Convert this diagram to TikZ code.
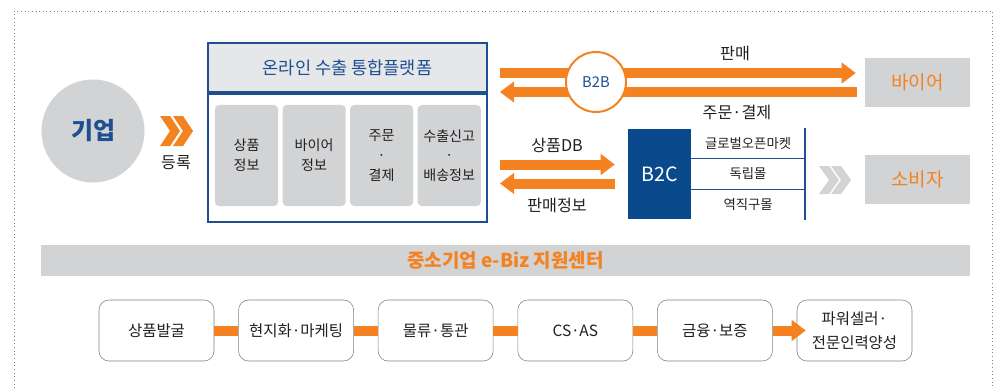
\documentclass[tikz,border=0pt]{standalone}
\usepackage{fontspec}
\setmainfont{Noto Sans CJK KR}
\usepackage{tikz}
\usetikzlibrary{calc}
\usetikzlibrary{positioning}
\usetikzlibrary{arrows.meta}

\definecolor{kblue}{HTML}{1D4F91}
\definecolor{kdblue}{HTML}{0A4A8C}
\definecolor{korange}{HTML}{F58220}
\definecolor{kgray}{HTML}{D1D3D4}
\definecolor{klight}{HTML}{E6E7E8}
\definecolor{kdark}{HTML}{231F20}
\definecolor{kborder}{HTML}{808285}

\begin{document}
\begin{tikzpicture}[x=0.025cm, y=-0.025cm,
        tag/.style={text=kdark, inner sep=0pt, font=\fontsize{11.5}{14}\selectfont},
        infobox/.style={rectangle, rounded corners=0.1cm, fill=kgray, minimum width=1.575cm, minimum height=2.525cm, align=center, text=kdark, inner sep=0pt, font=\fontsize{10}{14}\selectfont},
        stepbox/.style={rectangle, rounded corners=0.25cm, draw=kborder, fill=white, minimum width=2.875cm, minimum height=1.525cm, align=center, text=kdark, inner sep=0pt, font=\fontsize{11}{17}\selectfont},
        targetbox/.style={rectangle, fill=kgray, minimum width=2.625cm, minimum height=1.225cm, text=korange, font=\fontsize{13.5}{16}\selectfont},
        listrow/.style={rectangle, minimum width=2.825cm, minimum height=0.75cm, inner sep=0pt, text=kdark, font=\fontsize{9.5}{12}\selectfont},
        oband/.style={draw=korange, line width=0.25cm},
        oarrow/.style={oband, -{Triangle[length=0.35cm, width=0.53cm, line width=0pt]}},
        frameline/.style={draw=gray, line width=0.6pt, dotted}]
        \useasboundingbox (0,0) rectangle (1000,388);
        \draw[frameline] (14,388) -- (14,11) -- (992,11) -- (992,388);

        % company and registration
        \node[circle, fill=kgray, minimum size=2.575cm, text=kblue, font=\bfseries\fontsize{17}{20}\selectfont] (firm) at (93,131) {기업};
        \fill[korange] (160,116) -- (170,116) -- (180,131) -- (170,146) -- (160,146) -- (170,131) -- cycle
                       (173,116) -- (183,116) -- (193,131) -- (183,146) -- (173,146) -- (183,131) -- cycle;
        \node[tag] (reg) at (176,163) {등록};

        % platform
        \node[rectangle, draw=kblue, line width=0.05cm, fill=klight, minimum width=6.975cm, minimum height=1.225cm, text=kblue, font=\fontsize{12.5}{15}\selectfont] (head) at (347.5,67.5) {온라인 수출 통합플랫폼};
        \node[rectangle, draw=kblue, line width=0.05cm, fill=white, minimum width=6.975cm, minimum height=3.2cm] (plat) [below=0cm of head] {};
        \node[infobox] (info1) at (246.5,155.5) {상품\\정보};
        \node[infobox] (info2) [right=0.1cm of info1] {바이어\\정보};
        \node[infobox] (info3) [right=0.1cm of info2] {주문\\·\\결제};
        \node[infobox] (info4) [right=0.1cm of info3] {수출신고\\·\\배송정보};

        % B2B
        \node[targetbox] (buyer) at (917.5,82.5) {바이어};
        \draw[oarrow] ($(plat.east |- buyer.west)+(12,-9.5)$) -- ($(buyer.west)+(-9,-9.5)$);
        \draw[oarrow] ($(buyer.west)+(-8,9.5)$) -- ($(plat.east |- buyer.west)+(12,9.5)$);
        \node[circle, draw=korange, line width=0.05cm, fill=white, minimum size=1.5cm, text=kblue, font=\fontsize{10.5}{12}\selectfont] (b2b) at (596,82) {B2B};
        \node[tag] (sell) at (735,53) {판매};
        \node[tag] (order) at (737,112) {주문·결제};

        % B2C
        \node[rectangle, fill=kdblue, minimum width=1.575cm, minimum height=2.25cm, text=white, font=\fontsize{14}{16}\selectfont] (b2c) at (659.5,174) {B2C};
        \node[listrow] (mall2) [right=0cm of b2c] {독립몰};
        \node[listrow] (mall1) [above=0cm of mall2] {글로벌오픈마켓};
        \node[listrow] (mall3) [below=0cm of mall2] {역직구몰};
        \draw[kblue, line width=0.6pt] (mall1.south west) -- (mall1.south east);
        \draw[kblue, line width=0.6pt] (mall2.south west) -- (mall2.south east);
        \draw[kblue, line width=1.4pt] (mall1.north east) -- (mall3.south east);
        \draw[oarrow] ($(plat.east |- b2c.west)+(12,-9.5)$) -- ($(b2c.west)+(-13,-9.5)$);
        \draw[oarrow] ($(b2c.west)+(-13,9.5)$) -- ($(plat.east |- b2c.west)+(12,9.5)$);
        \node[tag] (db) at (557,145) {상품DB};
        \node[tag] (salesinfo) at (557,205) {판매정보};

        \fill[kgray] (819,166) -- (829,166) -- (839,180) -- (829,194) -- (819,194) -- (829,180) -- cycle
                     (831,166) -- (841,166) -- (851,180) -- (841,194) -- (831,194) -- (841,180) -- cycle;
        \node[targetbox] (consumer) at (917.5,179.5) {소비자};

        % support center
        \node[rectangle, fill=kgray, minimum width=23.225cm, minimum height=0.775cm, text=korange, font=\bfseries\fontsize{13.5}{16}\selectfont] (center) at (505.5,260.5) {중소기업 e-Biz 지원센터};
        \node[stepbox] (step1) at (156.5,330.5) {상품발굴};
        \node[stepbox] (step2) [right=0.6cm of step1] {현지화·마케팅};
        \node[stepbox] (step3) [right=0.6cm of step2] {물류·통관};
        \node[stepbox] (step4) [right=0.6cm of step3] {CS·AS};
        \node[stepbox] (step5) [right=0.6cm of step4] {금융·보증};
        \node[stepbox] (step6) [right=0.6cm of step5] {파워셀러·\\전문인력양성};

        \draw[oband] (step1) -- (step2);
        \draw[oband] (step2) -- (step3);
        \draw[oband] (step3) -- (step4);
        \draw[oband] (step4) -- (step5);
        \draw[oarrow, shorten >=-0.225cm] (step5) -- (step6);
    \end{tikzpicture}
\end{document}
